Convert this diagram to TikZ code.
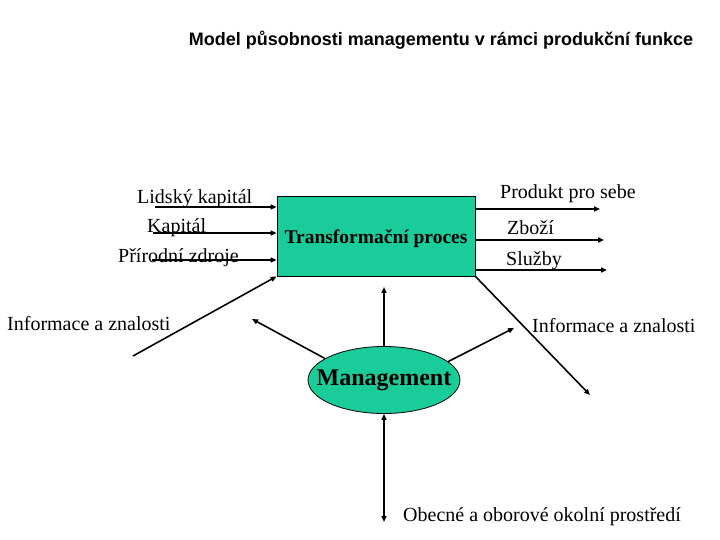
\documentclass[tikz,border=0pt]{standalone}
\usepackage{fontspec}
\setmainfont{Liberation Serif}
\newfontfamily\arialf{Liberation Sans}
\usetikzlibrary{arrows.meta,shapes.geometric}
\definecolor{teal1}{RGB}{26,204,153}
\tikzset{
  conn/.style={line width=1.6pt,-{Triangle[length=6pt,width=5pt]}},
  dconn/.style={line width=1.6pt,{Triangle[length=6pt,width=5pt]}-{Triangle[length=6pt,width=5pt]}},
  lbl/.style={inner sep=0pt,font=\fontsize{20bp}{22bp}\selectfont},
}
\begin{document}
\begin{tikzpicture}[x=1bp,y=-1bp]
\useasboundingbox (0,0) rectangle (720,540);
\node[inner sep=0pt,font=\arialf\bfseries\fontsize{18bp}{20bp}\selectfont] (title) at (441,40) {Model působnosti managementu v rámci produkční funkce};
\node[draw,line width=0.8pt,fill=teal1,minimum width=198bp,minimum height=80bp,inner sep=0pt,
  font=\bfseries\fontsize{19.5bp}{21bp}\selectfont] (box) at (376,236) {\raisebox{-8bp}[0pt][0pt]{Transformační proces}};
\node[ellipse,draw,line width=0.8pt,fill=teal1,minimum width=152bp,minimum height=67bp,inner sep=0pt,
  font=\bfseries\fontsize{24bp}{26bp}\selectfont] (mgmt) at (384,380) {\makebox[0pt]{Management}};
% labels
\node[lbl,anchor=west] (l1) at (137,199) {Lidský kapitál};
\node[lbl,anchor=west] (l2) at (147,228) {Kapitál};
\node[lbl,anchor=west] (l3) at (118,258) {Přírodní zdroje};
\node[lbl,anchor=west] (l4) at (7,324) {Informace a znalosti};
\node[lbl,anchor=west] (r1) at (500,194) {Produkt pro sebe};
\node[lbl,anchor=west] (r2) at (507,228) {Zboží};
\node[lbl,anchor=west] (r3) at (506,261) {Služby};
\node[lbl,anchor=west] (r4) at (532,326) {Informace a znalosti};
\node[lbl,anchor=west] (env) at (403,517) {Obecné a oborové okolní prostředí};
% coordinates
\coordinate (i1) at (155,207);
\coordinate (i2) at (153,233);
\coordinate (i3) at (152,260);
\coordinate (i4) at (133,356);
\coordinate (o1) at (600,209);
\coordinate (o2) at (604,240);
\coordinate (o3) at (607,270);
\coordinate (o4) at (590,395);
\coordinate (mup) at (384,287);
\coordinate (mul) at (252,319);
\coordinate (mur) at (514,328);
\coordinate (mdn) at (384,522);
% connectors
\draw[conn] (i1) -- (box.west |- i1);
\draw[conn] (i2) -- (box.west |- i2);
\draw[conn] (i3) -- (box.west |- i3);
\draw[conn] (i4) -- (box.south west);
\draw[conn] (box.east |- o1) -- (o1);
\draw[conn] (box.east |- o2) -- (o2);
\draw[conn] (box.east |- o3) -- (o3);
\draw[conn] (box.south east) -- (o4);
\draw[conn] (mgmt.north) -- (mup);
\draw[conn] (mgmt.160) -- (mul);
\draw[conn] (mgmt.16) -- (mur);
\draw[dconn] (mgmt.south) -- (mdn);
\end{tikzpicture}
\end{document}
